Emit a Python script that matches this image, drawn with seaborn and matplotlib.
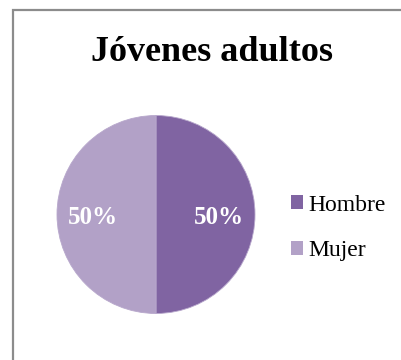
import matplotlib
matplotlib.use("Agg")
import matplotlib.pyplot as plt
from matplotlib.patches import Rectangle, Patch
import seaborn as sns

sns.set_theme(style="white")
plt.rcParams["font.family"] = ["Liberation Serif", "DejaVu Serif"]
plt.rcParams["text.color"] = "black"

# Data
title = "Jóvenes adultos"
categories = ["Hombre", "Mujer"]
shares = [50, 50]
colors = ["#8064A2", "#B2A1C7"]

fig = plt.figure(figsize=(4.01, 3.60), dpi=100)
fig.patch.set_facecolor("white")

# Chart frame (open to the right and bottom of the canvas)
W, H = 401, 360
frame = Rectangle((13 / W, -0.1), 1.2, 1 - 9.5 / H + 0.1,
                  transform=fig.transFigure, fill=False,
                  edgecolor="#8c8c8c", linewidth=1.6)
fig.add_artist(frame)

# Pie axes: center (156, 214.5), radius ~99 px
r = 99
cx, cy = 156, 214.5
ax = fig.add_axes([(cx - r) / W, 1 - (cy + r) / H, 2 * r / W, 2 * r / H])
wedges, texts, autotexts = ax.pie(
    shares, colors=colors, startangle=90, counterclock=False,
    autopct=lambda p: f"{p:.0f}%", pctdistance=0.64,
    radius=1.0, wedgeprops=dict(linewidth=0.6, edgecolor="#b8a8cc"),
    textprops=dict(color="white", fontsize=18, fontweight="bold"),
)
for t in autotexts:
    x, y = t.get_position()
    t.set_position((x, y - 0.03))
ax.set_xlim(-1, 1)
ax.set_ylim(-1, 1)
ax.set_aspect("equal")
ax.axis("off")

fig.text(212 / W, 1 - 52.5 / H, title, ha="center", va="center",
         fontsize=26, fontweight="bold", color="black")

handles = [Patch(facecolor=c, edgecolor="none") for c in colors]
fig.legend(handles, categories, loc="center left",
           bbox_to_anchor=(282 / W, 1 - 228 / H), frameon=False,
           fontsize=17, handlelength=0.5, handleheight=0.5,
           handletextpad=0.2, labelspacing=1.05, borderaxespad=0,
           labelcolor="black")

fig.savefig("out.png", dpi=100, facecolor="white")
